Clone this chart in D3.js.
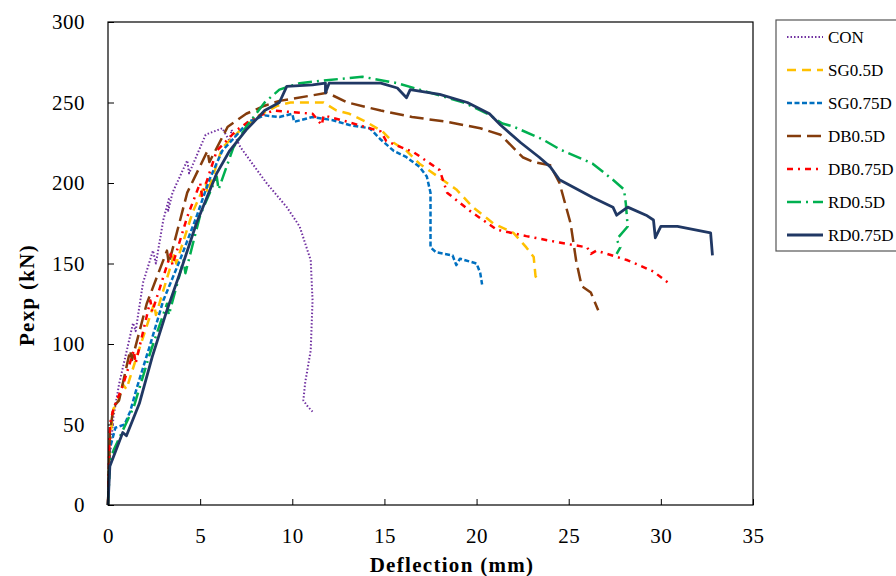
<!DOCTYPE html>
<html>
<head>
<meta charset="utf-8">
<script src="https://cdn.jsdelivr.net/npm/d3@7"></script>
<style>
  body { margin: 0; background: #fff; }
  svg text { font-family: "Liberation Serif", "DejaVu Serif", serif; fill: #000; }
</style>
</head>
<body>
<svg id="chart" width="896" height="576"></svg>
<script>
'use strict';

// series: [deflection (mm), load (kN)]
var conData = [[0,0],[0.1,30],[0.3,55],[0.6,75],[1.0,95],[1.36,113],[1.5,108],[1.9,138],[2.44,158],[2.6,150],
    [3.0,177],[3.3,190],[3.25,182],[3.5,194],[4.3,214],[4.4,206],[5.3,230],[6.2,234],[6.6,226],[6.7,233],
    [7.2,222],[8.6,200],[9.7,185],[10.4,173],[11.0,152],[11.1,127],[11.0,96],[10.7,76],[10.6,65],[10.85,61],[11.1,58]];
var sg05Data = [[0,0],[0.1,40],[0.3,60],[0.5,62],[0.8,75],[1.0,72],[1.5,90],[2.5,125],[2.6,118],[3.6,156],
    [3.7,150],[4.6,182],[5.3,200],[5.4,194],[6.2,222],[7.2,233],[8.2,242],[9.2,248],[9.9,250],[11.7,250],
    [12.4,245],[13.1,243],[14.0,238],[14.9,232],[15.5,225],[16.2,220],[16.9,212],[17.9,204],[18.9,196],
    [19.8,185],[20.9,175],[22.0,169],[22.7,160],[23.1,154],[23.2,142],[23.4,139]];
var sg075Data = [[0,0],[0.1,35],[0.4,48],[0.9,50],[1.2,58],[1.57,73],[2.3,100],[3.0,127],[3.9,152],[4.8,179],
    [5.5,202],[6.2,220],[7.0,230],[7.6,238],[8.5,242],[9.3,241],[10.0,243],[10.1,238],[11.1,241],[12.2,239],
    [13.1,236],[14.2,234],[14.8,227],[15.5,220],[16.2,216],[16.9,210],[17.3,204],[17.5,194],[17.5,160],
    [17.8,157],[18.7,155],[18.9,149],[19.1,153],[20.0,150],[20.2,144],[20.3,137]];
var db05Data = [[0,0],[0.1,45],[0.3,61],[0.6,65],[1.2,96],[1.3,90],[2.1,125],[3.2,158],[3.3,150],[4.3,194],
    [5.4,220],[5.5,213],[6.5,235],[7.5,243],[8.5,248],[9.3,251],[11.9,256],[13.0,250],[14.8,245],[16.5,241],
    [18.4,238],[20.2,234],[21.3,230],[22.5,216],[23.1,213],[24.0,211],[24.5,200],[25.1,175],[25.4,152],
    [25.7,136],[26.2,132],[26.6,121]];
var db075Data = [[0,0],[0.1,50],[0.3,60],[0.8,74],[1.4,96],[1.5,88],[2.3,127],[2.4,120],[3.4,156],[3.5,149],
    [4.3,179],[5.0,200],[5.1,192],[5.9,220],[7.0,233],[8.0,241],[9.0,245],[11.1,243],[11.6,236],[11.7,242],
    [13.0,238],[14.2,234],[14.8,232],[15.1,226],[16.6,219],[18.0,208],[18.4,194],[19.6,183],[21.1,171],
    [22.7,167],[24.5,163],[26.0,160],[26.2,156],[26.5,158],[28.2,152],[29.6,145],[30.4,138]];
var rd05Data = [[0,0],[0.1,25],[0.3,34],[1.4,61],[2.3,95],[3.2,125],[3.3,118],[4.1,152],[4.2,144],[5.0,180],
    [5.9,204],[6.0,196],[6.8,222],[7.5,235],[8.5,250],[9.3,258],[10.4,262],[12.0,264],[13.8,266],[15.7,262],
    [17.5,256],[19.3,250],[20.6,243],[21.4,237],[22.0,235],[23.6,227],[24.5,221],[26.3,212],[27.4,202],
    [28.0,196],[28.1,187],[28.2,173],[27.6,165],[27.8,160],[27.6,156]];
var rd075Data = [[0,0],[0.1,24],[0.8,45],[1.0,43],[1.7,63],[2.4,92],[3.2,121],[3.9,144],[4.8,175],[5.9,206],
    [6.6,220],[7.5,233],[8.5,245],[9.3,250],[9.7,260],[11.1,261],[11.8,262],[11.8,256],[12.0,262],[13.0,262],
    [14.8,262],[15.7,259],[16.2,253],[16.4,258],[18.0,255],[19.5,250],[20.7,243],[21.3,236],[22.4,225],
    [23.4,216],[24.0,210],[24.5,202],[26.3,191],[27.4,185],[27.6,180],[28.2,185],[29.2,180],[29.6,177],
    [29.7,166],[30.0,173],[30.9,173],[32.7,169],[32.8,155]];

var seriesNames = ['CON', 'SG0.5D', 'SG0.75D', 'DB0.5D', 'DB0.75D', 'RD0.5D', 'RD0.75D'];
var seriesData = [conData, sg05Data, sg075Data, db05Data, db075Data, rd05Data, rd075Data];
var seriesColors = ['#7030a0', '#ffc000', '#0070c0', '#843c0c', '#ff0000', '#00b050', '#203864'];
var seriesDash = ['1.5,2', '9,6', '5,2.5', '14,6', '6,5,2,5', '14,5,2,5', null];
var seriesWidth = [2, 2.5, 2.5, 2.5, 2.5, 2.5, 2.8];

var xTicks = [0, 5, 10, 15, 20, 25, 30, 35];
var yTicks = [0, 50, 100, 150, 200, 250, 300];

var svg = d3.select('#chart'),
    margin = { top: 22, right: 143, bottom: 71, left: 108 },
    width = 896 - margin.left - margin.right,
    height = 576 - margin.top - margin.bottom;

var xScale = d3.scaleLinear().domain([0, 35]).range([0, width]);
var yScale = d3.scaleLinear().domain([0, 300]).range([height, 0]);

var g = svg.append('g').attr('transform', 'translate(' + margin.left + ',' + margin.top + ')');

var xAxis = d3.axisBottom(xScale).tickValues(xTicks).tickSizeInner(-6).tickSizeOuter(0).tickPadding(23);
var yAxis = d3.axisLeft(yScale).tickValues(yTicks).tickSizeInner(-6).tickSizeOuter(0).tickPadding(23);

var gx = g.append('g').attr('transform', 'translate(0,' + height + ')').call(xAxis);
var gy = g.append('g').call(yAxis);
[gx, gy].forEach(function(a) {
    a.select('.domain').remove();
    a.selectAll('line').attr('stroke', '#000');
    a.selectAll('text').style('font-size', '21px').style('letter-spacing', '0.5px');
});

var line = d3.line()
    .x(function(d) { return xScale(d[0]); })
    .y(function(d) { return yScale(d[1]); });

for (var i = 0; i < seriesData.length; i++) {
    g.append('path')
        .attr('d', line(seriesData[i]))
        .attr('fill', 'none')
        .attr('stroke', seriesColors[i])
        .attr('stroke-width', seriesWidth[i])
        .attr('stroke-dasharray', seriesDash[i])
        .attr('stroke-linejoin', 'round');
}

g.append('rect')
    .attr('width', width).attr('height', height)
    .attr('fill', 'none').attr('stroke', '#000').attr('stroke-width', 1.2);

svg.append('text')
    .attr('x', 452).attr('y', 572)
    .attr('text-anchor', 'middle')
    .style('font-size', '21px').style('font-weight', 'bold').style('letter-spacing', '1.3px')
    .text('Deflection (mm)');

svg.append('text')
    .attr('transform', 'translate(34,295) rotate(-90)')
    .attr('text-anchor', 'middle')
    .style('font-size', '21px').style('font-weight', 'bold').style('letter-spacing', '1.3px')
    .text('Pexp (kN)');

// legend
var legend = svg.append('g').attr('transform', 'translate(776,20)');
legend.append('rect')
    .attr('width', 140).attr('height', 231)
    .attr('fill', '#fff').attr('stroke', '#555').attr('stroke-width', 1.2);

var items = legend.selectAll('g.item')
    .data(seriesNames)
    .enter()
    .append('g')
    .attr('transform', function(d, i) { return 'translate(0,' + (17 + i * 33) + ')'; });

items.append('line')
    .attr('x1', 11).attr('x2', 47).attr('y1', 0).attr('y2', 0)
    .attr('stroke', function(d, i) { return seriesColors[i]; })
    .attr('stroke-width', function(d, i) { return seriesWidth[i]; })
    .attr('stroke-dasharray', function(d, i) { return seriesDash[i]; });

items.append('text')
    .attr('x', 52).attr('y', 6)
    .style('font-size', '17px')
    .text(function(d) { return d; });
</script>
</body>
</html>
